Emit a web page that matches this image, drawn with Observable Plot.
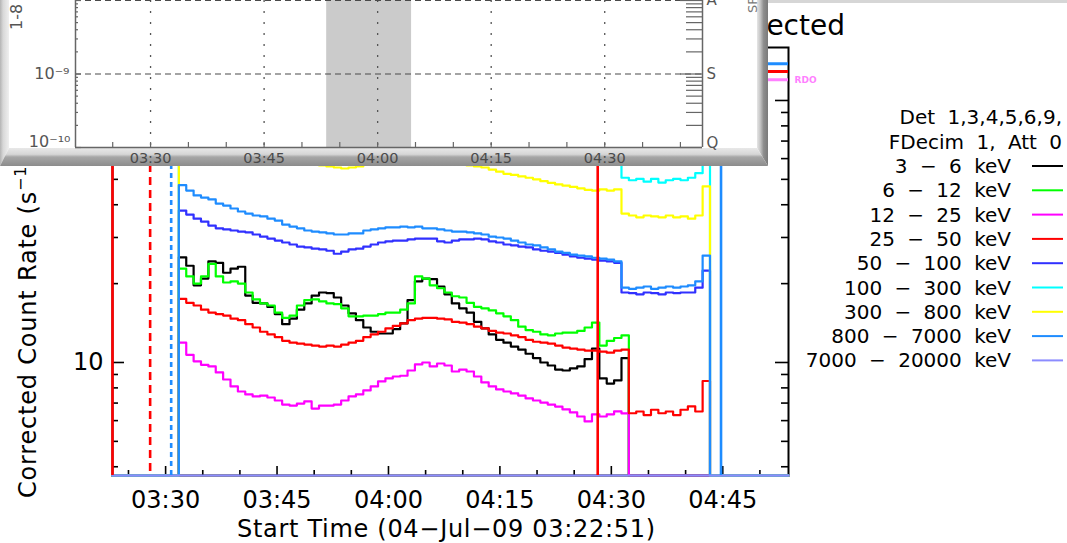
<!DOCTYPE html>
<html>
<head>
<meta charset="utf-8">
<script src="https://cdn.jsdelivr.net/npm/d3@7"></script>
<script src="https://cdn.jsdelivr.net/npm/@observablehq/plot@0.6"></script>
<style>
  html, body { margin: 0; padding: 0; background: #fff; }
  #page { position: relative; width: 1067px; height: 543px; overflow: hidden; font-family: "DejaVu Sans", sans-serif; }
  #page > svg, #page > .layer { position: absolute; left: 0; top: 0; }
  #goes { position: absolute; left: 0; top: 0; width: 768px; height: 166px; background: #fff; z-index: 2; }
  #goes .bevel { position: absolute; }
  #goes svg { position: absolute; left: 0; top: 0; }
  #topstrip { position: absolute; left: 768px; top: 0; width: 299px; height: 3px; background: #d6d6d6; z-index: 2; }
</style>
</head>
<body>
<div id="page"></div>
<script>
// ---- RHESSI observing summary, 4 July 2009 ----
const obsWindow = ["03:22:51", "04:53:51"];      // plotted interval
const binWindow = ["03:31:47", "04:43:17"];      // interval covered by the count-rate bins

const bandLabels = ["3 \u2212 6 keV", "6 \u2212 12 keV", "12 \u2212 25 keV", "25 \u2212 50 keV",
  "50 \u2212 100 keV", "100 \u2212 300 keV", "300 \u2212 800 keV", "800 \u2212 7000 keV", "7000 \u2212 20000 keV"];
const bandColors = ["#000000", "#00ff00", "#ff00ff", "#ff0000", "#3030ff", "#00ffff", "#ffff00", "#1e8cff", "#8c8cff"];

// corrected count rates (s^-1), one value per bin; 0 = no data / below scale
const rate3to6 = [25.2, 23.4, 19.7, 20.9, 24.3, 24.0, 22.0, 22.8, 23.2, 18.0,
  16.9, 16.8, 16.3, 15.3, 14.0, 14.7, 15.9, 16.8, 18.0, 18.5,
  18.4, 17.7, 16.5, 15.4, 14.5, 13.6, 13.1, 12.9, 12.9, 13.4,
  14.1, 17.3, 20.4, 20.9, 20.8, 19.5, 18.2, 16.8, 16.1, 15.5,
  14.3, 13.5, 12.8, 12.2, 11.9, 11.5, 11.2, 10.8, 10.4, 10.0,
  9.74, 9.40, 9.32, 9.49, 9.66, 10.3, 11.3, 8.69, 8.31, 8.54,
  10.4, 0, 0, 0, 0, 0, 0, 0, 0, 0, 0, 0];
const rate6to12 = [22.8, 21.3, 20.0, 21.3, 23.8, 21.3, 20.2, 20.4, 20.0, 18.5,
  17.4, 16.8, 16.5, 15.5, 14.8, 15.1, 16.5, 17.3, 17.4, 17.1,
  16.8, 16.7, 16.1, 15.0, 15.0, 15.1, 15.1, 15.3, 15.5, 15.5,
  15.9, 16.8, 21.3, 20.9, 19.7, 19.2, 18.5, 17.9, 17.7, 16.9,
  16.3, 16.1, 15.8, 15.4, 15.0, 14.5, 13.7, 13.3, 13.1, 12.8,
  12.7, 12.9, 13.0, 13.0, 13.2, 13.6, 14.2, 11.6, 12.1, 12.4,
  12.7, 0, 0, 0, 0, 0, 0, 0, 0, 0, 0, 0];
const rate12to25 = [11.9, 10.7, 10.1, 9.80, 9.66, 9.16, 8.61, 8.10, 7.75, 7.55,
  7.42, 7.48, 7.35, 7.16, 6.91, 6.85, 6.97, 7.10, 6.67, 6.85,
  6.85, 6.91, 7.16, 7.42, 7.55, 7.82, 8.10, 8.47, 8.69, 8.84,
  8.90, 9.32, 9.83, 10.0, 9.66, 9.91, 9.74, 9.24, 9.40, 9.24,
  8.84, 8.39, 8.10, 7.89, 7.75, 7.62, 7.48, 7.29, 7.16, 7.03,
  6.91, 6.79, 6.62, 6.45, 6.22, 5.96, 6.34, 6.22, 6.34, 6.51,
  6.39, 0, 0, 0, 0, 0, 0, 0, 0, 0, 0, 0];
const rate25to50 = [17.5, 16.9, 16.5, 15.9, 15.5, 15.3, 15.1, 14.7, 14.5, 14.0,
  13.6, 13.1, 12.8, 12.5, 12.1, 11.9, 11.8, 11.7, 11.6, 11.5,
  11.6, 11.5, 11.7, 11.9, 12.1, 12.5, 12.8, 13.1, 13.5, 13.8,
  14.1, 14.5, 14.7, 14.8, 14.8, 14.7, 14.6, 14.3, 14.2, 14.0,
  13.7, 13.5, 13.2, 13.0, 12.9, 12.7, 12.5, 12.2, 12.0, 11.9,
  11.8, 11.6, 11.4, 11.3, 11.2, 11.1, 11.1, 11.0, 10.9, 11.1,
  11.2, 6.4, 6.5, 6.3, 6.6, 6.4, 6.5, 6.3, 6.6, 6.8,
  6.5, 8.5];
const rate50to100 = [38.0, 36.7, 35.4, 34.5, 33.3, 32.5, 32.2, 31.9, 31.6, 31.4,
  30.8, 30.2, 29.7, 29.2, 28.7, 28.2, 27.7, 27.5, 27.2, 27.0,
  26.7, 26.0, 26.5, 27.0, 27.2, 27.7, 28.2, 28.7, 29.0, 29.2,
  29.2, 29.5, 29.7, 29.7, 29.7, 29.0, 28.7, 29.2, 29.5, 29.5,
  29.7, 29.5, 29.0, 28.7, 28.2, 28.0, 27.7, 27.5, 27.0, 26.7,
  26.5, 26.2, 25.8, 25.4, 25.1, 24.9, 24.7, 24.5, 24.3, 24.0,
  18.5, 18.4, 18.2, 18.5, 18.4, 18.2, 18.5, 18.4, 18.5, 18.5,
  19.3, 22.4];
const rate100to300 = [115, 110, 106, 103, 101, 98, 96, 94, 91, 90,
  88, 87, 85, 84, 82, 80, 79, 78, 77, 76,
  76, 75, 75, 75, 76, 77, 78, 79, 80, 80,
  81, 80, 81, 80, 79, 79, 78, 78, 77, 77,
  76, 75, 74, 73, 72, 71, 70, 69, 68, 67,
  66, 65, 64.5, 64, 63, 62, 62, 62.5, 62, 62.5,
  50.7, 49.6, 50.2, 49.0, 50.2, 48.6, 49.6, 50.2, 49.6, 50.7,
  52.8, 60];
const rate300to800 = [85, 81, 78, 76, 75, 72, 71, 69, 67, 66,
  65, 64, 63, 62, 60, 59, 58, 57.5, 57, 56.5,
  56, 55.5, 55, 55.5, 56, 57, 58, 58.5, 59, 59,
  59.5, 59, 59.5, 58.5, 58.5, 58, 57.5, 57, 57, 56.5,
  56, 55.5, 54.5, 53.5, 52.5, 52, 51.3, 50.7, 50, 49.2,
  48.5, 47.8, 47.3, 46.8, 46.2, 45.6, 45.3, 45.8, 45.3, 45.8,
  37.0, 36.4, 35.8, 36.4, 36.1, 35.8, 36.4, 35.8, 36.1, 35.4,
  36.4, 47];
const rate800to7000 = [47.5, 45.3, 43.4, 42.6, 41.9, 40.4, 39.7, 38.7, 37.7, 37.0,
  36.4, 36.1, 35.4, 34.8, 33.6, 33.0, 32.5, 31.9, 31.6, 31.4,
  31.1, 30.8, 30.8, 31.1, 31.1, 31.9, 32.2, 32.5, 32.8, 32.8,
  33.0, 32.8, 33.0, 32.5, 32.5, 32.2, 31.9, 31.6, 31.6, 31.4,
  31.1, 30.8, 30.2, 30.0, 29.7, 29.2, 28.7, 28.2, 28.0, 27.5,
  27.0, 26.5, 26.2, 25.8, 25.6, 25.4, 25.1, 24.9, 24.7, 24.3,
  19.3, 19.1, 19.3, 19.5, 19.1, 19.3, 19.5, 19.3, 19.5, 19.7,
  20.4, 25.6];
const rate7000to20000 = [0, 0, 0, 0, 0, 0, 0, 0, 0, 0,
  0, 0, 0, 0, 0, 0, 0, 0, 0, 0,
  0, 0, 0, 0, 0, 0, 0, 0, 0, 0,
  0, 0, 0, 0, 0, 0, 0, 0, 0, 0,
  0, 0, 0, 0, 0, 0, 0, 0, 0, 0,
  0, 0, 0, 0, 0, 0, 0, 0, 0, 0,
  0, 0, 0, 0, 0, 0, 0, 0, 0, 0,
  0, 0];
const bandRates = [rate3to6, rate6to12, rate12to25, rate25to50, rate50to100,
  rate100to300, rate300to800, rate800to7000, rate7000to20000];

// event markers
const redSolidTimes = ["03:22:51", "04:28:10"];
const redDashedTimes = ["03:27:55"];
const blueDottedTimes = ["03:30:45"];
const blueSolidTimes = ["04:44:46"];

// flag bars near the top of the panel (level in s^-1, start time)
const flagBars = [
  {level: 138, start: "04:44:46", color: "#1e8cff"},
  {level: 129, start: "04:28:10", color: "#ff0000"},
  {level: 120, start: "04:43:17", color: "#ff80ff", label: "RDO"}
];

// axis ticks
const yMajorTicks = [10, 100];
const yMinorTicks = [4, 5, 6, 7, 8, 9, 20, 30, 40, 50, 60, 70, 80, 90];

// GOES panel
const goesWindow = ["03:20:05", "04:42:55"];
const goesShade = [{start: "03:53:16", end: "04:04:29"}];
const goesGrid = ["03:30", "03:45", "04:00", "04:15", "04:30"];
const goesLevels = [1e-10, 1e-9, 1e-8];
const goesClasses = ["Q", "S", "A"];
const goesMinor = [2, 3, 4, 5, 6, 7, 8, 9].flatMap(k => [k * 1e-10, k * 1e-9]);

// ---------------------------------------------------------------
const parseT = d3.utcParse("%Y-%m-%d %H:%M:%S");
const T = s => parseT("2009-07-04 " + (s.length === 5 ? s + ":00" : s));
const hhmm = d3.utcFormat("%H:%M");

function bandSeries(values) {
  const t0 = T(binWindow[0]), t1 = T(binWindow[1]);
  const step = (t1 - t0) / values.length;
  return [
    {time: T(obsWindow[0]), rate: 0},
    ...values.map((v, i) => ({time: new Date(+t0 + i * step), rate: v})),
    {time: t1, rate: 0},
    {time: T(obsWindow[1]), rate: 0}
  ];
}

const page = document.getElementById("page");
const W = 1067, H = 543;
const mL = 112, mR = 279, mT = 47, mB = 68;
const innerW = W - mL - mR, innerH = H - mT - mB;
const xDomain = obsWindow.map(T);
const majorX = d3.utcMinute.every(15).range(xDomain[0], xDomain[1]);
const minorX = d3.utcMinute.every(5).range(xDomain[0], xDomain[1]).filter(d => d.getUTCMinutes() % 15 !== 0);

const main = Plot.plot({
  width: W, height: H,
  marginLeft: mL, marginRight: mR, marginTop: mT, marginBottom: mB,
  style: {fontFamily: "DejaVu Sans", background: "transparent", color: "black", overflow: "visible"},
  x: {type: "utc", domain: xDomain},
  y: {type: "log", domain: [3.704, 159.3], clamp: true},
  marks: [
    Plot.frame({stroke: "black", strokeWidth: 2}),
    // ticks on all four sides, pointing inward
    Plot.ruleX(majorX, {stroke: "black", strokeWidth: 1.6, insetTop: innerH - 9}),
    Plot.ruleX(minorX, {stroke: "black", strokeWidth: 1.6, insetTop: innerH - 5}),
    Plot.ruleX(majorX, {stroke: "black", strokeWidth: 1.6, insetBottom: innerH - 9}),
    Plot.ruleX(minorX, {stroke: "black", strokeWidth: 1.6, insetBottom: innerH - 5}),
    Plot.ruleY(yMajorTicks, {stroke: "black", strokeWidth: 1.6, insetRight: innerW - 12}),
    Plot.ruleY(yMinorTicks, {stroke: "black", strokeWidth: 1.6, insetRight: innerW - 6}),
    Plot.ruleY(yMajorTicks, {stroke: "black", strokeWidth: 1.6, insetLeft: innerW - 13}),
    Plot.ruleY(yMinorTicks, {stroke: "black", strokeWidth: 1.6, insetLeft: innerW - 7}),
    Plot.axisX({ticks: majorX, tickFormat: hhmm, tickSize: 0, tickPadding: 15, fontSize: 24, label: null}),
    Plot.axisY({ticks: yMajorTicks, tickFormat: d => String(d), tickSize: 0, tickPadding: 9, fontSize: 24, label: null}),
    // count-rate curves, lowest band first
    ...bandRates.map((vals, i) => Plot.line(bandSeries(vals), {
      x: "time", y: "rate", curve: "step-after", stroke: bandColors[i], strokeWidth: 2.2
    })),
    // flag bars
    ...flagBars.map(f => Plot.ruleY([f], {y: "level", x1: d => T(d.start), x2: () => T(obsWindow[1]), stroke: f.color, strokeWidth: 3})),
    Plot.text(flagBars.filter(f => f.label), {y: "level", x: () => T(obsWindow[1]), text: "label", dx: 6,
      textAnchor: "start", fill: "#ff80ff", fontSize: 9, fontWeight: "bold"}),
    // event markers
    Plot.ruleX(redSolidTimes, {x: T, stroke: "#ff0000", strokeWidth: 2.6}),
    Plot.ruleX(redDashedTimes, {x: T, stroke: "#ff0000", strokeWidth: 2.6, strokeDasharray: "8,5"}),
    Plot.ruleX(blueDottedTimes, {x: T, stroke: "#1e8cff", strokeWidth: 2.6, strokeDasharray: "5,4"}),
    Plot.ruleX(blueSolidTimes, {x: T, stroke: "#1e8cff", strokeWidth: 2.6})
  ]
});
page.appendChild(main);

// titles and legend
const ann = d3.select(page).append("svg").attr("class", "layer").attr("width", W).attr("height", H)
  .style("font-family", "DejaVu Sans").style("overflow", "visible");
ann.append("text").attr("x", 845).attr("y", 35).attr("text-anchor", "end").attr("font-size", 28)
  .text("RHESSI Observing Summary Count Rates, Corrected");
const yt = ann.append("text").attr("transform", "translate(36,498) rotate(-90)").attr("font-size", 24)
  .style("letter-spacing", "0.8px");
yt.append("tspan").text("Corrected Count Rate (s");
yt.append("tspan").attr("dy", -10).attr("font-size", 16).text("\u22121");
yt.append("tspan").attr("dy", 10).text(")");
ann.append("text").attr("x", 237).attr("y", 537).attr("font-size", 24).style("letter-spacing", "0.7px")
  .text("Start Time (04\u2212Jul\u221209 03:22:51)");
ann.append("text").attr("x", 1062).attr("y", 124).attr("text-anchor", "end").attr("font-size", 20)
  .style("word-spacing", "6px").text("Det 1,3,4,5,6,9,");
ann.append("text").attr("x", 1062).attr("y", 149).attr("text-anchor", "end").attr("font-size", 20)
  .style("word-spacing", "6px").text("FDecim 1, Att 0");
bandLabels.forEach((lab, i) => {
  const base = 173 + 24.3 * i;
  ann.append("text").attr("x", 1011).attr("y", base).attr("text-anchor", "end").attr("font-size", 20)
    .style("word-spacing", "6px").text(lab);
  ann.append("line").attr("x1", 1032).attr("x2", 1063).attr("y1", base - 7).attr("y2", base - 7)
    .attr("stroke", bandColors[i]).attr("stroke-width", 2);
});

// GOES window
const goes = d3.select(page).append("div").attr("id", "goes");
goes.append("div").attr("class", "bevel").style("left", "0px").style("top", "0px").style("width", "9px").style("height", "166px")
  .style("background", "linear-gradient(to right, #b4b4b4, #d8d8d8 35%, #efefef)")
  .style("clip-path", "polygon(0 0, 100% 0, 100% 148px, 0 166px)");
goes.append("div").attr("class", "bevel").style("left", "757px").style("top", "0px").style("width", "11px").style("height", "166px")
  .style("background", "linear-gradient(to right, #e6e6e6, #c4c4c4 30%, #8e8e8e 60%, #7a7a7a)")
  .style("clip-path", "polygon(0 0, 100% 0, 100% 100%, 0 148px)");
goes.append("div").attr("class", "bevel").style("left", "0px").style("top", "148px").style("width", "768px").style("height", "18px")
  .style("background", "linear-gradient(to bottom, #e8e8e8, #d6d6d6 35%, #a6a6a6 50%, #8c8c8c)")
  .style("clip-path", "polygon(9px 0, 757px 0, 768px 100%, 0 100%)");

const gW = 768, gH = 166, gL = 75, gR = 66, gT = 0, gB = 19;
const gInnerW = gW - gL - gR, gInnerH = gH - gT - gB;
const gDomain = goesWindow.map(T);
const gTicks5 = d3.utcMinute.every(5).range(gDomain[0], gDomain[1]);
const goesPlot = Plot.plot({
  width: gW, height: gH, marginLeft: gL, marginRight: gR, marginTop: gT, marginBottom: gB,
  style: {fontFamily: "DejaVu Sans", background: "transparent", overflow: "visible"},
  x: {type: "utc", domain: gDomain, axis: null},
  y: {type: "log", domain: [1e-10, 1e-8], axis: null},
  marks: [
    Plot.rect(goesShade, {x1: d => T(d.start), x2: d => T(d.end), fill: "#cbcbcb"}),
    Plot.ruleX(goesGrid, {x: T, stroke: "#555", strokeWidth: 1.3, strokeDasharray: "2,9"}),
    Plot.ruleY([1e-9, 1e-8], {stroke: "#4a4a4a", strokeWidth: 1.2, strokeDasharray: "6,4"}),
    Plot.ruleX(gDomain, {stroke: "#666", strokeWidth: 1.5}),
    Plot.ruleY([1e-10], {stroke: "#666", strokeWidth: 1.5}),
    Plot.ruleX(gTicks5, {stroke: "#666", strokeWidth: 1.2, insetTop: gInnerH - 5}),
    Plot.ruleY(goesLevels, {stroke: "#666", strokeWidth: 1.2, insetRight: gInnerW - 6}),
    Plot.ruleY(goesMinor, {stroke: "#666", strokeWidth: 1.2, insetRight: gInnerW - 3}),
    Plot.ruleY(goesLevels, {stroke: "#666", strokeWidth: 1.2, insetLeft: gInnerW - 22}),
    Plot.ruleY(goesMinor, {stroke: "#666", strokeWidth: 1.2, insetLeft: gInnerW - 16}),
    Plot.axisX({ticks: goesGrid.map(T), tickFormat: hhmm, tickSize: 0, tickPadding: 5, fontSize: 14.5, color: "#4a4a4a", label: null}),
    Plot.text([1e-9], {y: d => d, text: ["10\u207b\u2079"], frameAnchor: "left", dx: -6, textAnchor: "end", fill: "#555", fontSize: 16}),
    Plot.text([1e-10], {y: d => d, text: ["10\u207b\u00b9\u2070"], frameAnchor: "left", dx: -5, dy: -6, textAnchor: "end", fill: "#555", fontSize: 16}),
    Plot.text(goesLevels.slice(1), {y: d => d, text: goesClasses.slice(1), frameAnchor: "right", dx: 4, textAnchor: "start", fill: "#555", fontSize: 15}),
    Plot.text(goesLevels.slice(0, 1), {y: d => d, text: goesClasses.slice(0, 1), frameAnchor: "right", dx: 4, dy: -4, textAnchor: "start", fill: "#555", fontSize: 15})
  ]
});
goes.node().appendChild(goesPlot);
const gsvg = d3.select(goesPlot);
gsvg.append("text").attr("transform", "translate(22,30) rotate(-90)").attr("text-anchor", "start")
  .attr("font-size", 16).attr("fill", "#555").attr("font-family", "DejaVu Sans").text("1-8 \u00c5");
gsvg.append("text").attr("transform", "translate(757,13) rotate(-90)").attr("text-anchor", "start")
  .attr("font-size", 13).attr("fill", "#777").attr("font-family", "DejaVu Sans").text("SF");

d3.select(page).append("div").attr("id", "topstrip");
</script>
</body>
</html>
